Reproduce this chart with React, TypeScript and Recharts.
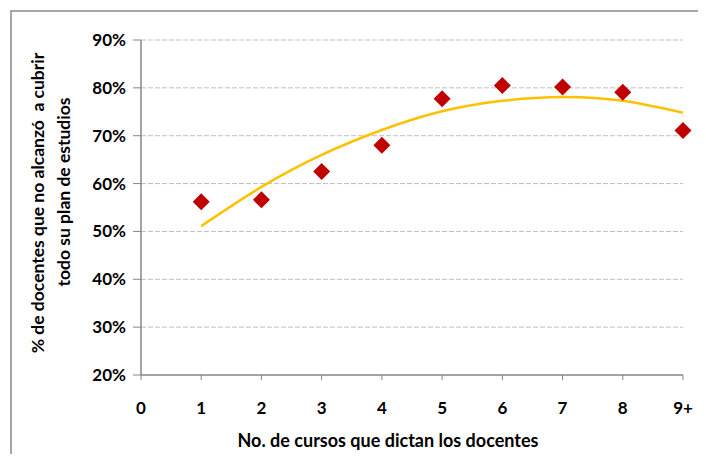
import { ComposedChart, Scatter, Line, XAxis, YAxis, CartesianGrid } from "recharts";

// cursos dictados (9 = "9+")
const cursos = [1, 2, 3, 4, 5, 6, 7, 8, 9];
// % de docentes que no alcanzó a cubrir el plan
const porcentaje = [56.2, 56.6, 62.5, 68.0, 77.7, 80.5, 80.2, 79.1, 71.1];
// línea de tendencia
const tendencia = [51.1, 59.3, 66.0, 71.2, 75.1, 77.3, 78.1, 77.3, 74.8];
const yTicks = [20, 30, 40, 50, 60, 70, 80, 90];
const xTicks = [0, 1, 2, 3, 4, 5, 6, 7, 8, 9];

const data = cursos.map((x, i) => ({ x, pct: porcentaje[i], trend: tendencia[i] }));

const FONT = "Lato, 'Open Sans', sans-serif";
const AXIS = "#868686";

function Diamond(props: any) {
    const { cx, cy } = props;
    if (cx == null || cy == null) return null;
    const r = 8.5;
    return (
        <polygon
            points={`${cx},${cy - r} ${cx + r},${cy} ${cx},${cy + r} ${cx - r},${cy}`}
            fill="#C00000"
        />
    );
}

function YTitle() {
    const style = { fontFamily: FONT, fontSize: 17.5, fontWeight: 700, fill: "#000", whiteSpace: "pre" as const };
    return (
        <g>
            <text x={37} y={203} transform="rotate(-90 37 203)" textAnchor="middle" dominantBaseline="central" style={style}>
                % de docentes que no alcanzó  a cubrir
            </text>
            <text x={63} y={192} transform="rotate(-90 63 192)" textAnchor="middle" dominantBaseline="central" style={style}>
                todo su plan de estudios
            </text>
        </g>
    );
}

function XTitle() {
    return (
        <text
            x={388}
            y={440}
            textAnchor="middle"
            dominantBaseline="central"
            style={{ fontFamily: FONT, fontSize: 18, fontWeight: 700, fill: "#000", whiteSpace: "pre" }}
        >
            No. de cursos que dictan los docentes
        </text>
    );
}

export default function App() {
    return (
        <div style={{ position: "relative", width: 706, height: 462, margin: -8, background: "#fff", overflow: "hidden" }}>
            <div
                style={{
                    position: "absolute",
                    left: 10,
                    top: 10,
                    width: 720,
                    height: 470,
                    borderLeft: "2px solid #A6A6A6",
                    borderTop: "2px solid #A6A6A6",
                }}
            />
            <ComposedChart
                width={706}
                height={462}
                data={data}
                margin={{ top: 40, right: 23, bottom: 27, left: 81 }}
                style={{ position: "absolute", left: 0, top: 0 }}
            >
                <CartesianGrid vertical={false} stroke="#BFBFBF" strokeDasharray="5 2" horizontalValues={[30, 40, 50, 60, 70, 80, 90]} />
                <XAxis
                    type="number"
                    dataKey="x"
                    domain={[0, 9]}
                    ticks={xTicks}
                    interval={0}
                    tickFormatter={(v: number) => (v === 9 ? "9+" : `${v}`)}
                    axisLine={{ stroke: AXIS, strokeWidth: 1.5 }}
                    tickLine={{ stroke: AXIS }}
                    tickSize={5}
                    tickMargin={22}
                    height={60}
                    tick={{ fontFamily: FONT, fontSize: 17, fontWeight: 700, fill: "#000" }}
                    label={<XTitle />}
                />
                <YAxis
                    type="number"
                    domain={[20, 90]}
                    ticks={yTicks}
                    interval={0}
                    tickFormatter={(v: number) => `${v}%`}
                    axisLine={{ stroke: AXIS, strokeWidth: 1.5 }}
                    tickLine={{ stroke: AXIS }}
                    tickSize={8}
                    tickMargin={7}
                    width={60}
                    tick={{ fontFamily: FONT, fontSize: 17, fontWeight: 700, fill: "#000" }}
                    label={<YTitle />}
                />
                <Line
                    type="natural"
                    dataKey="trend"
                    stroke="#FFC000"
                    strokeWidth={2.5}
                    dot={false}
                    activeDot={false}
                    isAnimationActive={false}
                />
                <Scatter dataKey="pct" shape={<Diamond />} isAnimationActive={false} />
            </ComposedChart>
        </div>
    );
}
